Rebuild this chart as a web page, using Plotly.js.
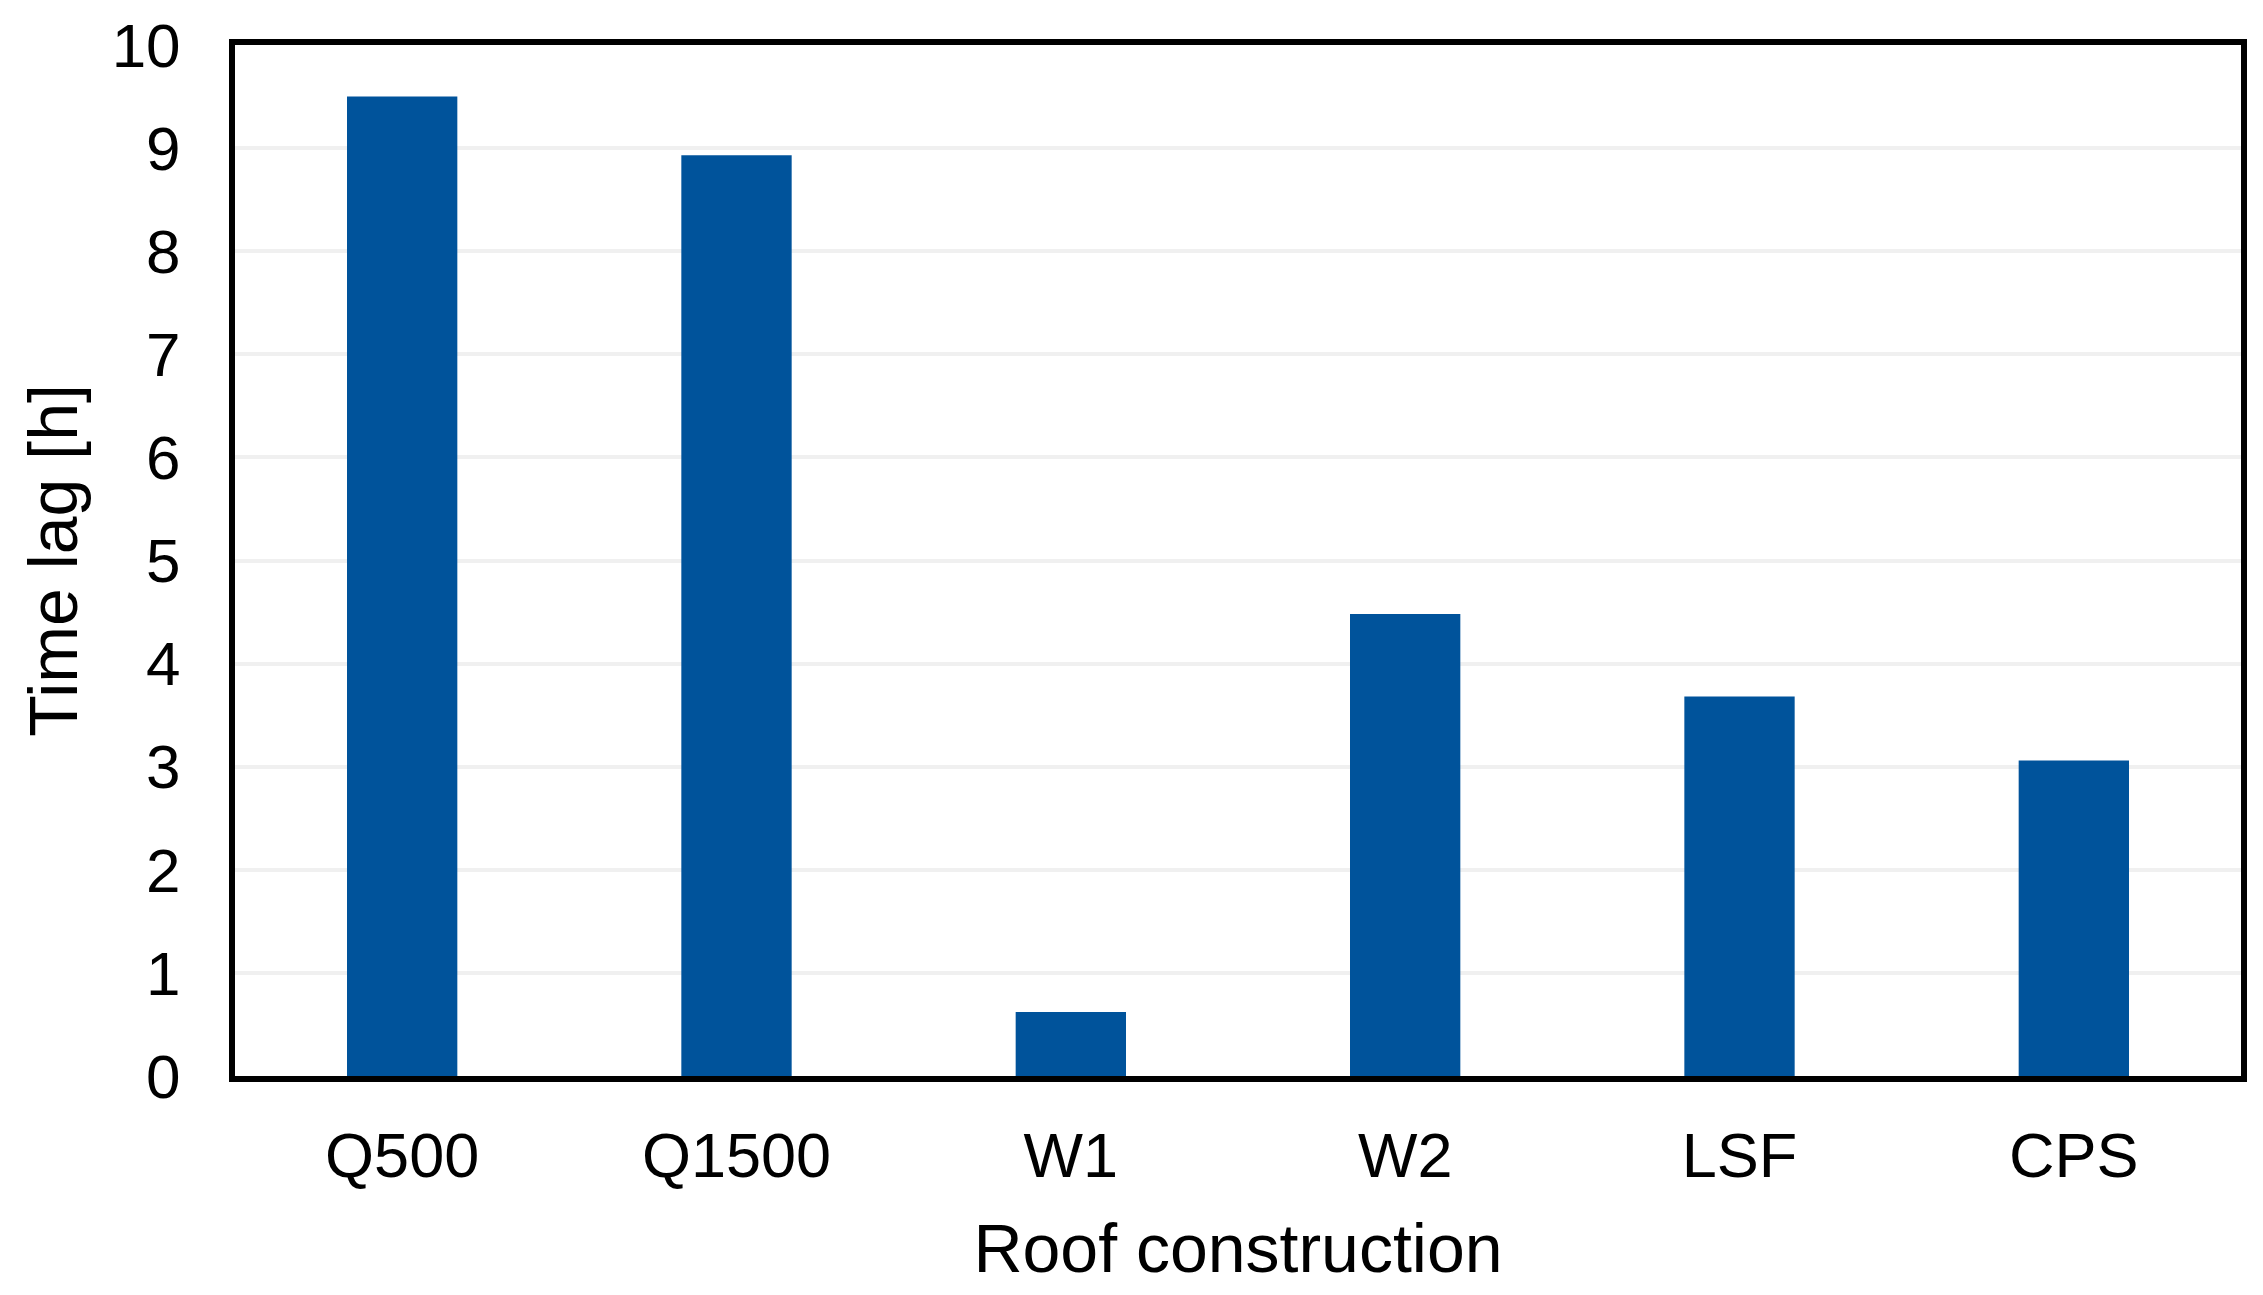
<!DOCTYPE html>
<html>
<head>
<meta charset="utf-8">
<script src="https://cdn.plot.ly/plotly-3.0.1.min.js"></script>
<style>
  html, body { margin: 0; padding: 0; background: #ffffff; }
  #chart { width: 2263px; height: 1295px; }
</style>
</head>
<body>
<div id="chart"></div>
<script>
const categories = ["Q500", "Q1500", "W1", "W2", "LSF", "CPS"];
const timeLag = [9.5, 8.93, 0.62, 4.48, 3.68, 3.06];
const yTickValues = [0, 1, 2, 3, 4, 5, 6, 7, 8, 9, 10];
const xTitle = "Roof construction";
const yTitle = "Time lag [h]";

const FONT = '"Liberation Sans", Arial, sans-serif';

const trace = {
  type: 'bar',
  x: categories,
  y: timeLag,
  marker: { color: '#00539B', line: { width: 0 } },
  hoverinfo: 'x+y'
};

const layout = {
  width: 2263,
  height: 1295,
  margin: { l: 235, r: 22, t: 45, b: 219, pad: 0 },
  paper_bgcolor: '#ffffff',
  plot_bgcolor: '#ffffff',
  showlegend: false,
  bargap: 0.67,
  font: { family: FONT, color: '#000000', size: 62 },
  xaxis: {
    type: 'category',
    showline: true,
    linecolor: '#000000',
    linewidth: 6,
    mirror: true,
    showgrid: false,
    zeroline: false,
    ticks: '',
    ticklabelstandoff: 19,
    tickfont: { family: FONT, size: 63, color: '#000000' },
    title: { text: xTitle, font: { family: FONT, size: 68, color: '#000000' }, standoff: 38 },
    automargin: false
  },
  yaxis: {
    range: [0, 10],
    tickvals: yTickValues,
    showline: true,
    linecolor: '#000000',
    linewidth: 6,
    mirror: true,
    showgrid: true,
    gridcolor: '#f0f0f0',
    gridwidth: 4,
    zeroline: false,
    ticks: '',
    ticklabelstandoff: 36,
    tickfont: { family: FONT, size: 62, color: '#000000' },
    title: { text: yTitle, font: { family: FONT, size: 68, color: '#000000' }, standoff: 14 },
    automargin: false
  }
};

Plotly.newPlot('chart', [trace], layout, { displayModeBar: false, staticPlot: true });
</script>
</body>
</html>
